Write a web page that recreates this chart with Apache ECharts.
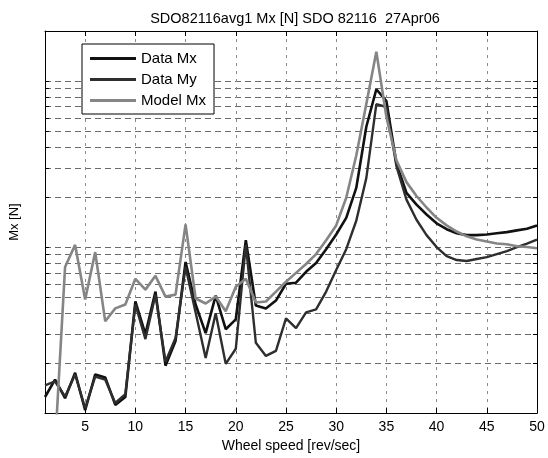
<!DOCTYPE html>
<html><head><meta charset="utf-8">
<script src="https://cdn.jsdelivr.net/npm/echarts@6/dist/echarts.min.js"></script>
<style>html,body{margin:0;padding:0;background:#fff}#c{width:548px;height:458px}</style>
</head><body><div id="c"></div>
<script>
const wheelSpeed = [1,2,3,4,5,6,7,8,9,10,11,12,13,14,15,16,17,18,19,20,21,22,23,24,25,26,27,28,29,30,31,32,33,34,35,36,37,38,39,40,41,42,43,44,45,46,47,48,49,50];
const dataMx = [0.125,0.159,0.123,0.175,0.104,0.171,0.164,0.112,0.125,0.470,
  0.299,0.539,0.193,0.272,0.813,0.451,0.303,0.510,0.320,0.367,
  1.10,0.445,0.427,0.476,0.601,0.610,0.709,0.801,0.971,1.19,
  1.50,2.27,5.30,8.92,7.57,3.19,2.12,1.80,1.57,1.39,
  1.28,1.21,1.18,1.18,1.19,1.21,1.23,1.26,1.29,1.35];
const dataMy = [0.147,0.155,0.126,0.171,0.107,0.166,0.159,0.115,0.130,0.451,
  0.279,0.517,0.204,0.283,0.759,0.404,0.215,0.399,0.198,0.244,
  1.03,0.265,0.221,0.237,0.372,0.325,0.404,0.421,0.539,0.728,
  0.971,1.44,2.60,7.26,6.97,3.07,1.93,1.46,1.18,1.00,
  0.882,0.835,0.824,0.847,0.870,0.907,0.945,0.998,1.05,1.11];
const modelMx = [0.02,0.063,0.759,1.03,0.483,0.932,0.357,0.427,0.451,0.644,
  0.554,0.671,0.503,0.517,1.37,0.490,0.457,0.503,0.410,0.577,
  0.644,0.464,0.470,0.539,0.618,0.699,0.791,0.907,1.10,1.35,
  1.98,3.56,7.26,15.0,6.08,3.33,2.46,2.03,1.73,1.50,
  1.35,1.24,1.16,1.11,1.08,1.05,1.04,1.01,1.00,0.984];
const xTickValues = [5,10,15,20,25,30,35,40,45,50];
const yTickValues = [0.1,0.2,0.3,0.4,0.5,0.6,0.7,0.8,0.9,1,2,3,4,5,6,7,8,9,10,20];
const seriesNames = ['Data Mx','Data My','Model Mx'];

const FONT = 'Liberation Sans, Arial, sans-serif';
const pairs = ys => wheelSpeed.map((x, i) => [x, ys[i]]);

const chart = echarts.init(document.getElementById('c'), null, {renderer: 'canvas'});
const xBase = {
  type: 'value', min: 1, max: 50,
  axisLine: {show: true, onZero: false, lineStyle: {color: '#000', width: 1}},
  axisTick: {show: true, inside: true, length: 5, customValues: xTickValues, lineStyle: {color: '#000'}},
};
const yBase = {
  type: 'log', logBase: 10, min: 0.1, max: 20,
  axisLine: {show: true, onZero: false, lineStyle: {color: '#000', width: 1}},
  axisTick: {show: true, inside: true, length: 4, customValues: yTickValues, lineStyle: {color: '#000'}},
  axisLabel: {show: false},
};
chart.setOption({
  animation: false,
  backgroundColor: '#fff',
  title: {
    text: 'SDO82116avg1 Mx [N] SDO 82116  27Apr06',
    left: 290, top: 6, textAlign: 'center',
    textStyle: {fontFamily: FONT, fontSize: 14.5, fontWeight: 'normal', color: '#000'}
  },
  grid: {left: 44, right: 11, top: 31, bottom: 40, containLabel: false},
  legend: {
    orient: 'vertical', left: 82, top: 44,
    data: seriesNames, icon: 'rect', itemWidth: 46, itemHeight: 3, itemGap: 6,
    backgroundColor: '#fff', borderColor: '#000', borderWidth: 1, borderRadius: 0,
    padding: [7, 8, 6, 8],
    textStyle: {fontFamily: FONT, fontSize: 15, color: '#000'}
  },
  xAxis: [
    Object.assign({}, xBase, {
      position: 'bottom',
      axisLabel: {show: true, customValues: xTickValues, margin: 7, fontFamily: FONT, fontSize: 14, color: '#000'},
      splitLine: {show: true, lineStyle: {color: '#8a8a8a', type: [3, 5], width: 1}},
      name: 'Wheel speed [rev/sec]', nameLocation: 'middle', nameGap: 24,
      nameTextStyle: {fontFamily: FONT, fontSize: 14, color: '#000'}
    }),
    Object.assign({}, xBase, {position: 'top', axisLabel: {show: false}, splitLine: {show: false}})
  ],
  yAxis: [
    Object.assign({}, yBase, {
      position: 'left',
      splitLine: {show: true, lineStyle: {color: '#6a6a6a', type: [6, 4], width: 1}},
      name: 'Mx [N]', nameLocation: 'middle', nameGap: 24, nameRotate: 90,
      nameTextStyle: {fontFamily: FONT, fontSize: 13, color: '#000'}
    }),
    Object.assign({}, yBase, {position: 'right', splitLine: {show: false}})
  ],
  series: [
    {name: 'Data Mx', type: 'line', data: pairs(dataMx), showSymbol: false, symbol: 'none',
     lineStyle: {color: '#111', width: 2.6}, itemStyle: {color: '#111'}, clip: true},
    {name: 'Data My', type: 'line', data: pairs(dataMy), showSymbol: false, symbol: 'none',
     lineStyle: {color: '#2e2e2e', width: 2.4}, itemStyle: {color: '#2e2e2e'}, clip: true},
    {name: 'Model Mx', type: 'line', data: pairs(modelMx), showSymbol: false, symbol: 'none',
     lineStyle: {color: '#858585', width: 2.6}, itemStyle: {color: '#858585'}, clip: true}
  ]
});
</script>
</body></html>
